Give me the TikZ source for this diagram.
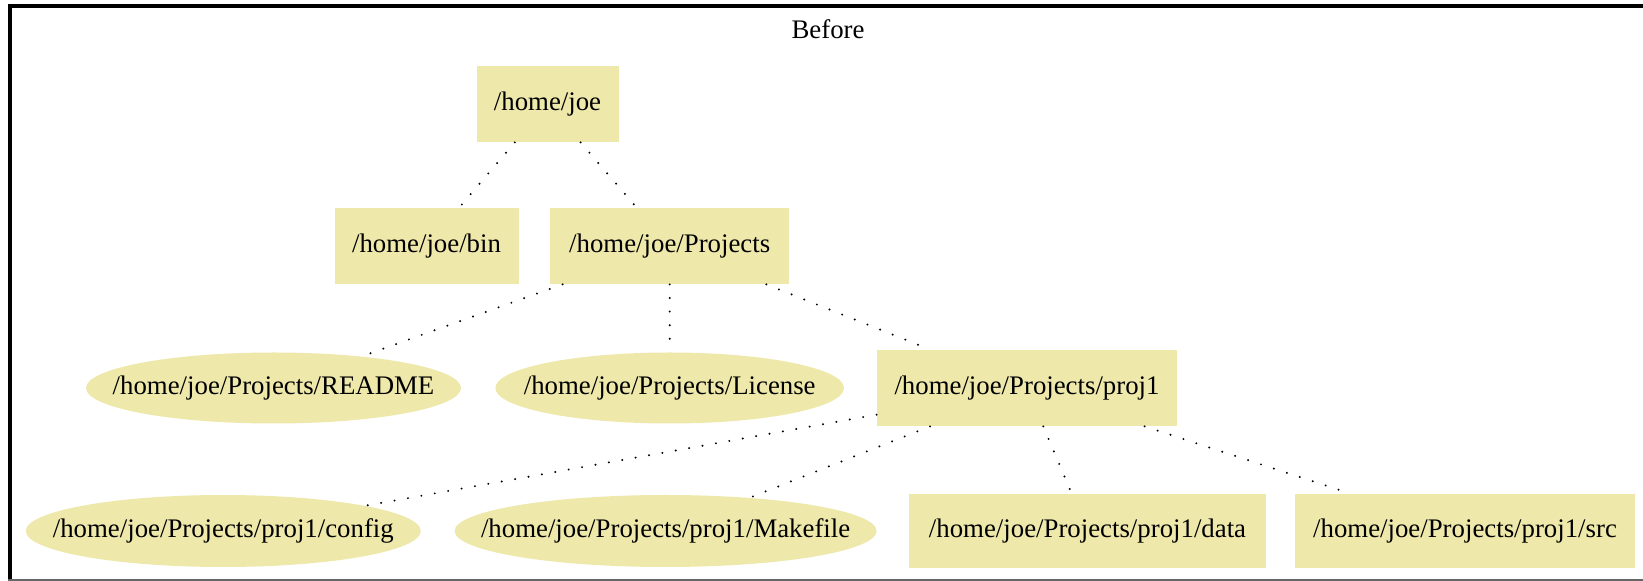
\documentclass[tikz,border=0pt]{standalone}
\usepackage{fontspec}
\setmainfont{Liberation Serif}
\usetikzlibrary{shapes.geometric}

\definecolor{palegold}{HTML}{EEE8AA}

\tikzset{
  dirbox/.style={rectangle, fill=palegold, inner sep=0pt,
    minimum height=38pt, font=\fontsize{13.4}{16}\selectfont},
  filebox/.style={ellipse, fill=palegold, inner sep=0pt,
    minimum height=35.5pt, font=\fontsize{13.4}{16}\selectfont},
  link/.style={draw=black, line width=1.1pt, line cap=round,
    dash pattern=on 0pt off 6.8pt},
}

\begin{document}
\begin{tikzpicture}[x=0.5pt, y=-0.5pt]
  \useasboundingbox (0,0) rectangle (1643,581);

  % frame
  \draw[line width=2.1pt, line join=miter] (10,581) -- (10,6.3) -- (1643,6.3);
  \draw[black!60, line width=0.9pt] (8,580) -- (1643,580);

  % title
  \node[font=\fontsize{13.4}{16}\selectfont] (title) at (828,29) {Before};

  % directories and files
  \node[dirbox, minimum width=71pt]    (joe)      at (547.5,104) {\makebox[0pt]{/home/joe}};
  \node[dirbox, minimum width=92pt]    (bin)      at (426.5,246) {\makebox[0pt]{/home/joe/bin}};
  \node[dirbox, minimum width=119.5pt] (projects) at (669.7,246) {\makebox[0pt]{/home/joe/Projects}};

  \node[filebox, minimum width=187.5pt] (readme)  at (273.5,388) {\makebox[0pt]{/home/joe/Projects/README}};
  \node[filebox, minimum width=174.3pt] (license) at (669.7,388) {\makebox[0pt]{/home/joe/Projects/License}};
  \node[dirbox, minimum width=150pt]    (proj1)   at (1027,388)  {\makebox[0pt]{/home/joe/Projects/proj1}};

  \node[filebox, minimum width=197.5pt, minimum height=36pt] (config)   at (223.3,531) {\makebox[0pt]{/home/joe/Projects/proj1/config}};
  \node[filebox, minimum width=211pt,   minimum height=36pt] (makefile) at (665.6,531) {\makebox[0pt]{/home/joe/Projects/proj1/Makefile}};
  \node[dirbox, minimum width=178.3pt, minimum height=37pt]  (data)     at (1087.5,531) {\makebox[0pt]{/home/joe/Projects/proj1/data}};
  \node[dirbox, minimum width=170pt,   minimum height=37pt]  (src)      at (1465,531)  {\makebox[0pt]{/home/joe/Projects/proj1/src}};

  % tree links
  \draw[link] (joe) -- (bin);
  \draw[link] (joe) -- (projects);
  \draw[link] (projects) -- (readme);
  \draw[link] (projects) -- (license);
  \draw[link] (projects) -- (proj1);
  \draw[link] (proj1) -- (config);
  \draw[link] (proj1) -- (makefile);
  \draw[link] (proj1) -- (data);
  \draw[link] (proj1) -- (src);
\end{tikzpicture}
\end{document}
